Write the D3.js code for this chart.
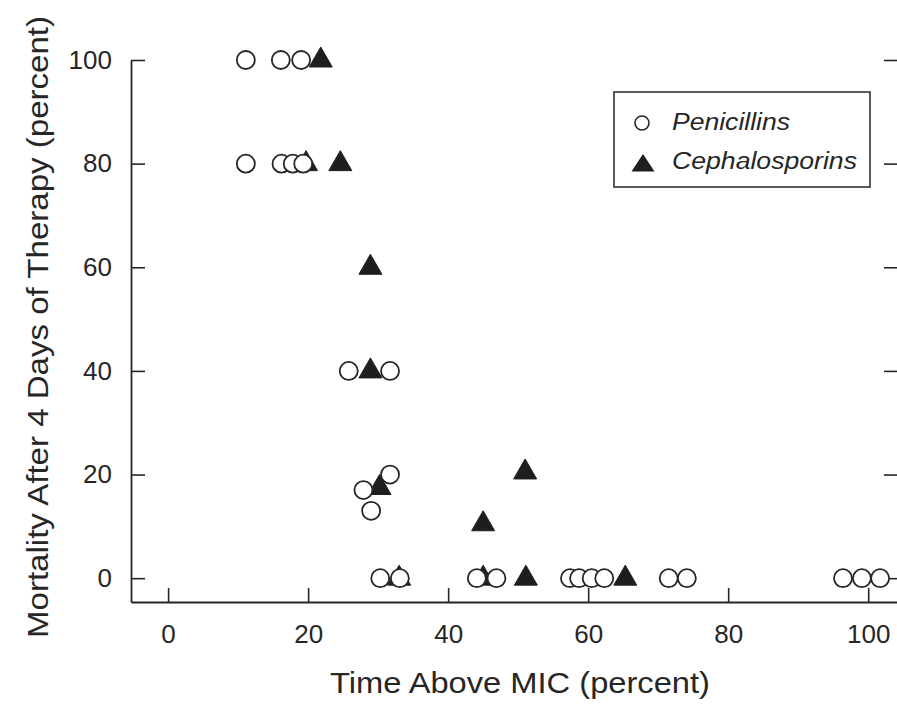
<!DOCTYPE html>
<html>
<head>
<meta charset="utf-8">
<script src="https://cdn.jsdelivr.net/npm/d3@7"></script>
<style>
  html, body { margin: 0; padding: 0; background: #ffffff; }
  svg { display: block; }
  text { font-family: "Liberation Sans", Arial, Helvetica, sans-serif; fill: #262626; }
</style>
</head>
<body>
<div id="chart"></div>
<script>
// Time above MIC (%) vs. mortality after 4 days of therapy (%)
const penicillinTime = [11.1, 16.1, 19.0, 11.1, 16.2, 17.8, 19.3, 25.8, 31.7, 27.9, 29.0, 31.7,
                        30.3, 33.1, 44.1, 46.9, 57.4, 58.7, 60.5, 62.3, 71.5, 74.1, 96.4, 99.1, 101.7];
const penicillinMortality = [100, 100, 100, 80, 80, 80, 80, 40, 40, 17, 13, 20,
                             0, 0, 0, 0, 0, 0, 0, 0, 0, 0, 0, 0, 0];
const cephalosporinTime = [21.8, 19.7, 24.6, 28.9, 28.9, 30.2, 33.0, 45.0, 51.0, 45.0, 51.1, 65.3];
const cephalosporinMortality = [100, 80, 80, 60, 40, 17.5, 0, 10.5, 20.5, 0, 0, 0];

const xTicks = [0, 20, 40, 60, 80, 100];
const yTicks = [0, 20, 40, 60, 80, 100];
const seriesNames = ["Penicillins", "Cephalosporins"];
const xTitle = "Time Above MIC (percent)";
const yTitle = "Mortality After 4 Days of Therapy (percent)";

const W = 897, H = 704;
const ink = "#262626";

const svg = d3.select("#chart").append("svg")
  .attr("width", W).attr("height", H);

const x = d3.scaleLinear().domain([-5.3, 104.4]).range([131, 899]);
const y = d3.scaleLinear().domain([-4.6, 100]).range([602, 60]);

// Left axis, ticks pointing inward
const yAxis = svg.append("g")
  .attr("transform", `translate(${x.range()[0]},0)`)
  .call(d3.axisLeft(y).tickValues(yTicks).tickSizeInner(-14).tickSizeOuter(0).tickPadding(19));
// Bottom axis, ticks pointing up
const xAxis = svg.append("g")
  .attr("transform", `translate(0,${y.range()[0]})`)
  .call(d3.axisBottom(x).tickValues(xTicks).tickSizeInner(-14).tickSizeOuter(0).tickPadding(23));
// Mirror ticks on the right edge
const rAxis = svg.append("g")
  .attr("transform", `translate(${x.range()[1] - 1},0)`)
  .call(d3.axisRight(y).tickValues(yTicks).tickSizeInner(-14).tickSizeOuter(0).tickFormat(""));
rAxis.select(".domain").remove();

[yAxis, xAxis, rAxis].forEach(g => {
  g.selectAll("path.domain").attr("stroke", ink).attr("stroke-width", 1.8);
  g.selectAll(".tick line").attr("stroke", ink).attr("stroke-width", 1.6);
  g.selectAll(".tick text").attr("font-size", 26).attr("fill", ink)
    .style("font-family", "'Liberation Sans', Arial, Helvetica, sans-serif");
});

// Axis titles
svg.append("text")
  .attr("x", 520).attr("y", 693)
  .attr("text-anchor", "middle")
  .attr("font-size", 29)
  .attr("textLength", 380).attr("lengthAdjust", "spacingAndGlyphs")
  .text(xTitle);

svg.append("text")
  .attr("transform", "translate(48,327) rotate(-90)")
  .attr("text-anchor", "middle")
  .attr("font-size", 30)
  .attr("textLength", 622).attr("lengthAdjust", "spacingAndGlyphs")
  .text(yTitle);

// Upward triangle around a data point
function triPath(cx, cy, hw, up, down) {
  return `M${cx},${cy - up}L${cx + hw},${cy + down}L${cx - hw},${cy + down}Z`;
}

const cephData = cephalosporinTime.map((t, i) => ({ t, m: cephalosporinMortality[i] }));
const penData = penicillinTime.map((t, i) => ({ t, m: penicillinMortality[i] }));

svg.append("g").selectAll("path")
  .data(cephData).join("path")
  .attr("d", d => triPath(x(d.t), y(d.m), 11.5, 13, 7))
  .attr("fill", "#1e1e1e")
  .attr("stroke", "#1e1e1e").attr("stroke-width", 1);

svg.append("g").selectAll("circle")
  .data(penData).join("circle")
  .attr("cx", d => x(d.t)).attr("cy", d => y(d.m))
  .attr("r", 9)
  .attr("fill", "#ffffff")
  .attr("stroke", ink).attr("stroke-width", 1.8);

// Legend
const lg = svg.append("g");
lg.append("rect")
  .attr("x", 614).attr("y", 92).attr("width", 256).attr("height", 95)
  .attr("fill", "#ffffff").attr("stroke", "#333").attr("stroke-width", 1.6);
lg.append("circle")
  .attr("cx", 642).attr("cy", 123).attr("r", 7)
  .attr("fill", "#ffffff").attr("stroke", ink).attr("stroke-width", 1.6);
lg.append("path")
  .attr("d", triPath(643, 164, 11.5, 10, 7.5))
  .attr("fill", "#1e1e1e");
lg.append("text")
  .attr("x", 672).attr("y", 130)
  .attr("font-size", 23).attr("font-style", "italic")
  .attr("textLength", 118).attr("lengthAdjust", "spacingAndGlyphs")
  .text(seriesNames[0]);
lg.append("text")
  .attr("x", 672).attr("y", 169)
  .attr("font-size", 23).attr("font-style", "italic")
  .attr("textLength", 185).attr("lengthAdjust", "spacingAndGlyphs")
  .text(seriesNames[1]);
</script>
</body>
</html>
